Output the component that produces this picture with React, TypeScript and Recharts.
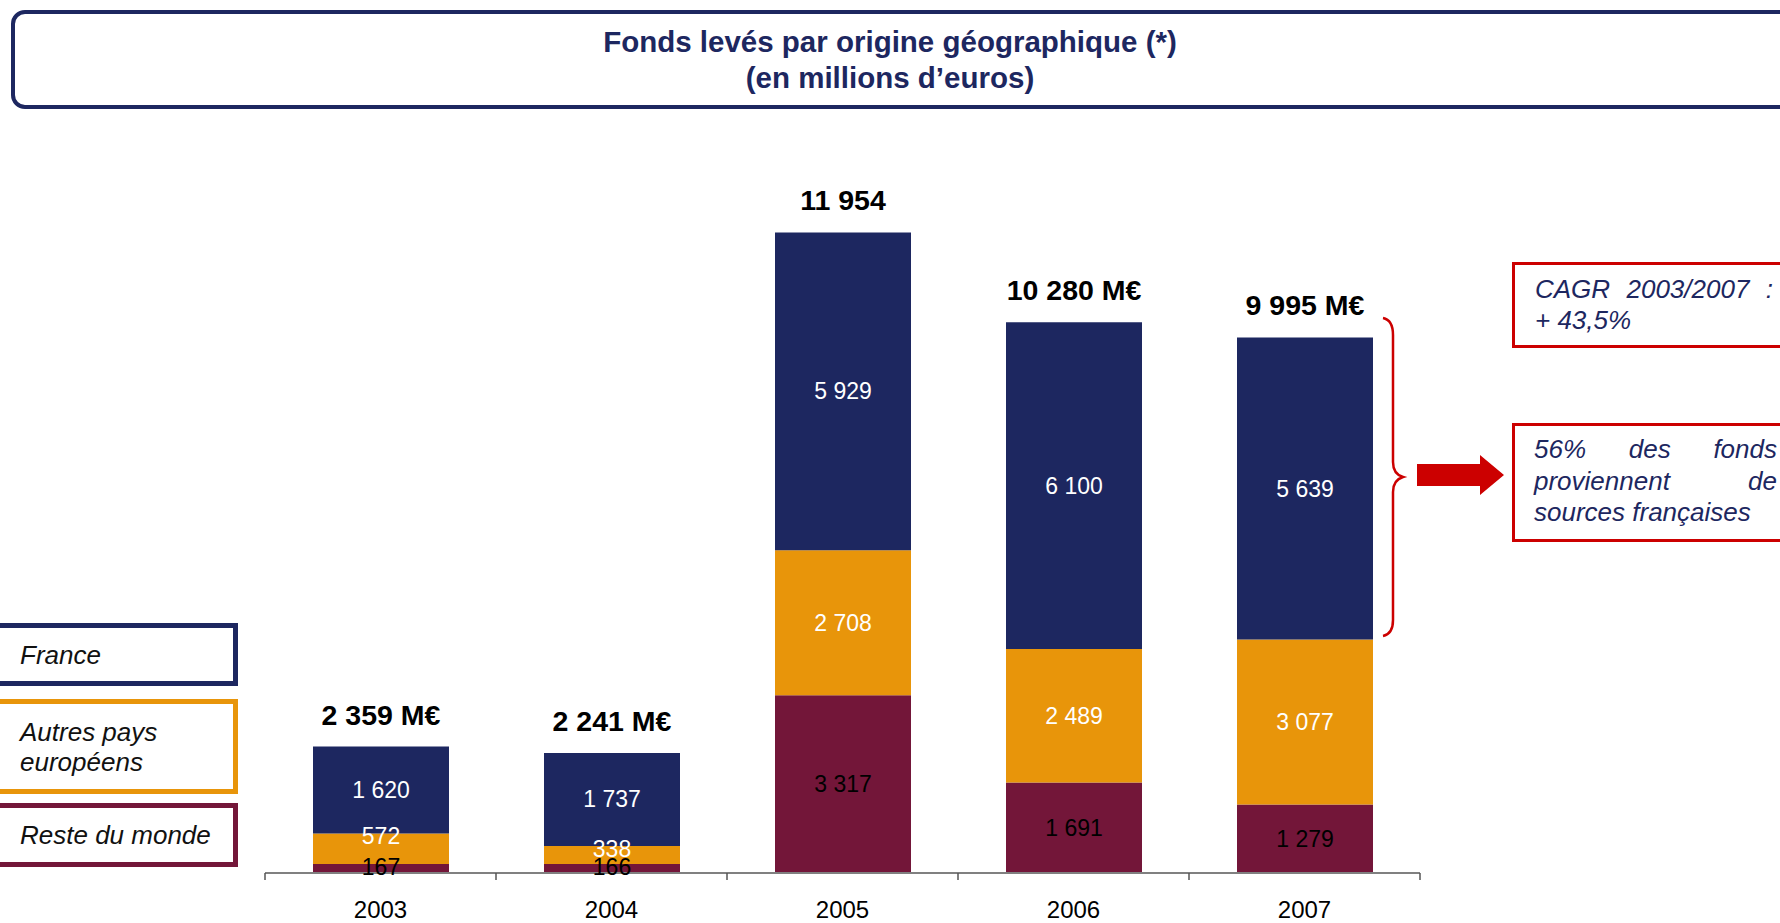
import React from 'react';
import { BarChart, Bar, XAxis, YAxis, LabelList, Legend } from 'recharts';

// data (millions d'euros)
const years = ['2003', '2004', '2005', '2006', '2007'];
const france = [1620, 1737, 5929, 6100, 5639];
const autresEurope = [572, 338, 2708, 2489, 3077];
const resteMonde = [167, 166, 3317, 1691, 1279];
const totalLabels = ['2 359 M€', '2 241 M€', '11 954', '10 280 M€', '9 995 M€'];

const NAVY = '#1d2760';
const ORANGE = '#e8950a';
const MAROON = '#731639';
const RED = '#cc0000';
const FONT = '"Liberation Sans", Arial, sans-serif';

const W = 1780;
const H = 923;
// bottom margin + 30px axis height puts the baseline at y=873
const margin = { top: 230, right: 360, bottom: 20, left: 265 };
const band = (W - margin.left - margin.right) / years.length;

const data = years.map((year, i) => ({
    year,
    france: france[i],
    autres: autresEurope[i],
    reste: resteMonde[i],
    total: totalLabels[i],
}));

const fmt = (v: any) => String(v).replace(/\B(?=(\d{3})+(?!\d))/g, ' ');

// value inside a segment; thin segments get the label pushed to their top edge
const segLabel = (fill: string) => (props: any) => {
    const vb = props.viewBox || props;
    const { x, y, width, height } = vb;
    const cy = height < 40 ? y + 3 : y + height / 2;
    return (
        <text x={x + width / 2} y={cy} textAnchor="middle" dominantBaseline="central" fontSize={23} fill={fill}>
            {fmt(props.value)}
        </text>
    );
};

// ticks sit between categories, like the original
const YearTick = (props: any) => {
    const { x, y, payload, index } = props;
    return (
        <g>
            <line x1={x - band / 2} x2={x - band / 2} y1={y} y2={y + 7} stroke="#555" strokeWidth={1.5} />
            {index === years.length - 1 && (
                <line x1={x + band / 2} x2={x + band / 2} y1={y} y2={y + 7} stroke="#555" strokeWidth={1.5} />
            )}
            <text x={x} y={y + 45} textAnchor="middle" fontSize={24} fill="#000">
                {payload.value}
            </text>
        </g>
    );
};

const legendOrder = ['france', 'autres', 'reste'];
const legendBox: Record<string, { height: number; gap: number }> = {
    france: { height: 63, gap: 0 },
    autres: { height: 95, gap: 13 },
    reste: { height: 64, gap: 9 },
};

const renderLegend = (props: any) => {
    const items = legendOrder
        .map((k) => (props.payload || []).find((p: any) => p.dataKey === k))
        .filter(Boolean);
    return (
        <div>
            {items.map((item: any) => {
                const box = legendBox[item.dataKey];
                return (
                    <div
                        key={item.dataKey}
                        style={{
                            marginLeft: -10,
                            marginTop: box.gap,
                            width: 248,
                            height: box.height,
                            boxSizing: 'border-box',
                            border: `5px solid ${item.color}`,
                            paddingLeft: 25,
                            paddingRight: 10,
                            display: 'flex',
                            alignItems: 'center',
                            fontStyle: 'italic',
                            fontSize: 26,
                            lineHeight: '30px',
                            color: '#111',
                            textAlign: 'left',
                        }}
                    >
                        {item.value}
                    </div>
                );
            })}
        </div>
    );
};

const App: React.FC = () => {
    return (
        <div
            style={{
                position: 'absolute',
                left: 0,
                top: 0,
                width: W,
                height: H,
                overflow: 'hidden',
                background: '#fff',
                fontFamily: FONT,
            }}
        >
            {/* title */}
            <div
                style={{
                    position: 'absolute',
                    left: 11,
                    top: 10,
                    width: 1820,
                    height: 99,
                    boxSizing: 'border-box',
                    border: `4px solid ${NAVY}`,
                    borderRadius: 14,
                }}
            />
            <div
                style={{
                    position: 'absolute',
                    left: 0,
                    top: 24,
                    width: W,
                    textAlign: 'center',
                    color: NAVY,
                    fontWeight: 'bold',
                    fontSize: 29.5,
                    lineHeight: '36px',
                }}
            >
                <div>Fonds levés par origine géographique (*)</div>
                <div>(en millions d’euros)</div>
            </div>

            <BarChart width={W} height={H} data={data} margin={margin}>
                <XAxis
                    dataKey="year"
                    axisLine={{ stroke: '#808080', strokeWidth: 2 }}
                    tickLine={false}
                    tickSize={0}
                    tickMargin={0}
                    tick={<YearTick />}
                    interval={0}
                />
                <YAxis hide domain={[0, 12000]} />
                <Legend
                    layout="vertical"
                    align="center"
                    verticalAlign="middle"
                    content={renderLegend}
                    wrapperStyle={{ left: 0, top: 623, width: 240 }}
                />
                <Bar dataKey="reste" name="Reste du monde" stackId="a" fill={MAROON} barSize={136} isAnimationActive={false}>
                    <LabelList dataKey="reste" content={segLabel('#000')} />
                </Bar>
                <Bar dataKey="autres" name="Autres pays européens" stackId="a" fill={ORANGE} barSize={136} isAnimationActive={false}>
                    <LabelList dataKey="autres" content={segLabel('#fff')} />
                </Bar>
                <Bar dataKey="france" name="France" stackId="a" fill={NAVY} barSize={136} isAnimationActive={false}>
                    <LabelList dataKey="france" content={segLabel('#fff')} />
                    <LabelList dataKey="total" position="top" offset={22} fill="#000" fontSize={28.5} fontWeight="bold" />
                </Bar>
            </BarChart>

            {/* brace + arrow */}
            <svg style={{ position: 'absolute', left: 0, top: 0 }} width={W} height={H}>
                <path
                    d="M1383,318 Q1393,320 1393,335 L1393,462 Q1393,474 1403,477 Q1393,480 1393,492 L1393,620 Q1393,634 1383,636"
                    fill="none"
                    stroke={RED}
                    strokeWidth={2.5}
                />
                <polygon points="1417,464 1480,464 1480,455 1504,475 1480,495 1480,486 1417,486" fill={RED} />
            </svg>

            {/* annotation boxes */}
            <div
                style={{
                    position: 'absolute',
                    left: 1512,
                    top: 262,
                    width: 320,
                    height: 86,
                    boxSizing: 'border-box',
                    border: `3px solid ${RED}`,
                    padding: '9px 0 0 20px',
                    color: NAVY,
                    fontStyle: 'italic',
                    fontSize: 26,
                    lineHeight: '31px',
                }}
            >
                <div style={{ width: 238, textAlign: 'justify', textAlignLast: 'justify' }}>CAGR 2003/2007 :</div>
                <div>+ 43,5%</div>
            </div>
            <div
                style={{
                    position: 'absolute',
                    left: 1512,
                    top: 423,
                    width: 320,
                    height: 119,
                    boxSizing: 'border-box',
                    border: `3px solid ${RED}`,
                    padding: '8px 0 0 19px',
                    color: NAVY,
                    fontStyle: 'italic',
                    fontSize: 26,
                    lineHeight: '31.5px',
                }}
            >
                <div style={{ width: 243, textAlign: 'justify', textAlignLast: 'justify' }}>56% des fonds</div>
                <div style={{ width: 243, textAlign: 'justify', textAlignLast: 'justify' }}>proviennent de</div>
                <div>sources françaises</div>
            </div>
        </div>
    );
};

export default App;
